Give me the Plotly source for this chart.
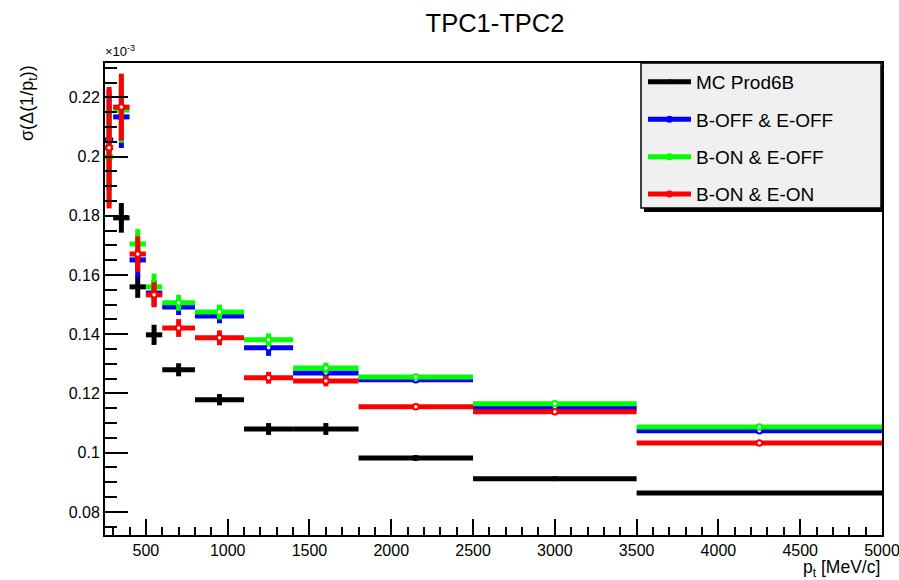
import plotly.graph_objects as go

# pt bin centres and half-widths [MeV/c]
pt = [275, 350, 450, 550, 700, 950, 1250, 1600, 2150, 3000, 4250]
pt_halfwidth = [25, 50, 50, 50, 100, 150, 150, 200, 350, 500, 750]

# sigma(Delta(1/pt)) in units of 1e-3
mc_prod6b = [0.1793, 0.1560, 0.1398, 0.1280, 0.1179, 0.1080, 0.1080, 0.0982, 0.0912, 0.0864]
mc_prod6b_err = [0.0050, 0.0037, 0.0034, 0.0022, 0.0019, 0.0020, 0.0020, 0.0010, 0.0008, 0.0006]

boff_eoff = [0.2056, 0.2134, 0.1651, 0.1539, 0.1492, 0.1462, 0.1354, 0.1269, 0.1246, 0.1151, 0.1074]
boff_eoff_err = [0.0170, 0.0105, 0.0060, 0.0045, 0.0027, 0.0025, 0.0027, 0.0020, 0.0010, 0.0010, 0.0008]

bon_eoff = [0.1999, 0.2157, 0.1705, 0.1560, 0.1506, 0.1475, 0.1381, 0.1286, 0.1256, 0.1165, 0.1087]
bon_eoff_err = [0.0160, 0.0110, 0.0050, 0.0045, 0.0027, 0.0025, 0.0022, 0.0018, 0.0010, 0.0010, 0.0008]

bon_eon = [0.2030, 0.2167, 0.1671, 0.1533, 0.1421, 0.1388, 0.1253, 0.1242, 0.1155, 0.1138, 0.1033]
bon_eon_err = [0.0205, 0.0113, 0.0060, 0.0042, 0.0030, 0.0025, 0.0020, 0.0018, 0.0010, 0.0010, 0.0008]

labels = ["MC Prod6B", "B-OFF & E-OFF", "B-ON & E-OFF", "B-ON & E-ON"]
colors = ["#000000", "#0000ff", "#00ff00", "#ff0000"]

FONT = "Liberation Sans, Arial, Helvetica, sans-serif"
BAR_W = 5

series = [
    (pt[1:], pt_halfwidth[1:], mc_prod6b, mc_prod6b_err),
    (pt, pt_halfwidth, boff_eoff, boff_eoff_err),
    (pt, pt_halfwidth, bon_eoff, bon_eoff_err),
    (pt, pt_halfwidth, bon_eon, bon_eon_err),
]

fig = go.Figure()

for i, (xs, xw, ys, ye) in enumerate(series):
    if i == 0:
        marker = dict(symbol="circle", size=4, color=colors[i])
    else:
        marker = dict(symbol="circle", size=5.5, color="white",
                      line=dict(color=colors[i], width=2))
    fig.add_trace(go.Scatter(
        x=xs, y=ys, mode="markers", marker=marker,
        error_x=dict(type="data", array=xw, color=colors[i], thickness=BAR_W, width=0),
        error_y=dict(type="data", array=ye, color=colors[i], thickness=BAR_W, width=0),
        showlegend=False, hoverinfo="x+y",
    ))

# legend entries (line + dot symbol)
for i, name in enumerate(labels):
    fig.add_trace(go.Scatter(
        x=[None], y=[None], mode="lines+markers", name=name, legendgroup=name,
        line=dict(color=colors[i], width=BAR_W),
        marker=dict(size=7 if i else 5, color=colors[i]),
    ))

# plot frame: x 105..882, y 63..535 (px)
L, R, T, B = 105, 882, 63, 535
PW, PH = R - L, B - T

def px_x(p):
    return (p - L) / PW

def px_y(p):
    return (B - p) / PH

shapes = [
    # legend shadow and box
    dict(type="rect", xref="paper", yref="paper", layer="above",
         x0=px_x(644), x1=px_x(884), y0=px_y(212), y1=px_y(66),
         fillcolor="black", line=dict(width=0)),
    dict(type="rect", xref="paper", yref="paper", layer="above",
         x0=px_x(641), x1=px_x(881), y0=px_y(208), y1=px_y(63),
         fillcolor="#f0f0f0", line=dict(color="black", width=1.5)),
]

annotations = [
    dict(text="σ(Δ(1/p<sub>t</sub>))", xref="paper", yref="paper",
         x=px_x(28), y=1.0, xanchor="center", yanchor="top", textangle=-90,
         showarrow=False, font=dict(family=FONT, size=18, color="black")),
    dict(text="p<sub>t</sub> [MeV/c]", xref="paper", yref="paper",
         x=1.0, y=px_y(568), xanchor="right", yanchor="middle",
         showarrow=False, font=dict(family=FONT, size=17.5, color="black")),
    dict(text="×10<sup>-3</sup>", xref="paper", yref="paper",
         x=px_x(103), y=px_y(61), xanchor="left", yanchor="bottom",
         showarrow=False, font=dict(family=FONT, size=13, color="black")),
]

fig.update_layout(
    width=899, height=580,
    margin=dict(l=L, r=899 - R, t=T, b=580 - B, autoexpand=False),
    paper_bgcolor="white", plot_bgcolor="white",
    font=dict(family=FONT, color="black"),
    title=dict(text="TPC1-TPC2", x=px_x(495), xref="paper", y=1 - 23 / 580,
               yanchor="middle", xanchor="center",
               font=dict(family=FONT, size=25.5, color="black")),
    xaxis=dict(range=[250, 5000], tick0=0, dtick=500, ticks="inside", ticklen=16,
               tickwidth=2, tickcolor="black", showline=True, linewidth=2,
               linecolor="black", mirror=True, showgrid=False, zeroline=False,
               automargin=False, ticklabeloverflow="allow",
               tickfont=dict(family=FONT, size=16),
               minor=dict(dtick=100, tick0=0, ticks="inside", ticklen=8,
                          tickwidth=2, tickcolor="black", showgrid=False)),
    yaxis=dict(range=[0.0722, 0.2316], tick0=0, dtick=0.02, ticks="inside", ticklen=23,
               tickwidth=2, tickcolor="black", showline=True, linewidth=2,
               linecolor="black", mirror=True, showgrid=False, zeroline=False,
               automargin=False, ticklabeloverflow="allow",
               tickfont=dict(family=FONT, size=16),
               minor=dict(dtick=0.005, tick0=0, ticks="inside", ticklen=12,
                          tickwidth=2, tickcolor="black", showgrid=False)),
    legend=dict(x=px_x(643), y=px_y(63), xanchor="left", yanchor="top",
                bgcolor="rgba(0,0,0,0)", borderwidth=0, itemwidth=43,
                tracegroupgap=9.7, font=dict(family=FONT, size=19, color="black")),
    shapes=shapes,
    annotations=annotations,
)

fig.write_html("out.html")
